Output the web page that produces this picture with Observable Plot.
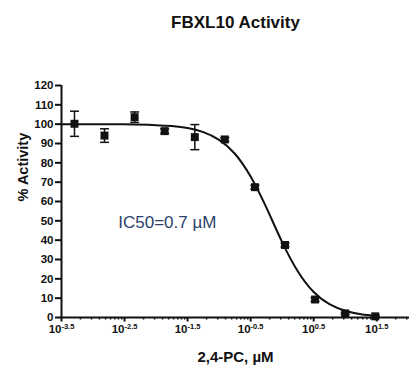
<!DOCTYPE html>
<html>
<head>
<meta charset="utf-8">
<script src="https://cdn.jsdelivr.net/npm/d3@7"></script>
<script src="https://cdn.jsdelivr.net/npm/@observablehq/plot@0.6"></script>
<style>
  html, body { margin: 0; padding: 0; background: #fff; }
  #chart svg { display: block; }
</style>
</head>
<body>
<div id="chart"></div>
<script>
// ---- data ----
const title = "FBXL10 Activity";
const xLabel = "2,4-PC, \u00b5M";
const yLabel = "% Activity";
const ic50Label = "IC50=0.7 \u00b5M";

// concentrations (µM), 3-fold dilution series
const conc = [0.000508, 0.00152, 0.00457, 0.0137, 0.0412, 0.123, 0.370, 1.11, 3.33, 10, 30];
const activity = [100.2, 94.1, 103.6, 96.4, 93.3, 92.1, 67.4, 37.5, 9.3, 2.1, 0.6];
const sem = [6.5, 3.5, 2.7, 1.2, 6.5, 1.0, 1.0, 1.0, 1.0, 0.5, 0.5];

// fitted curve (log10 µM, % activity)
const fitLogConc = [-3.5, -3, -2.5, -2, -1.75, -1.5, -1.25, -1, -0.75, -0.5, -0.25, 0, 0.25, 0.5, 0.75, 1, 1.25, 1.5];
const fitActivity = [100, 100, 99.9, 99.5, 99.0, 98.0, 95.9, 91.9, 84.7, 72.9, 56.8, 39.0, 23.8, 13.2, 6.9, 3.5, 1.7, 0.85];

// axis ticks (x in log10 µM)
const xTickExponents = [-3.5, -2.5, -1.5, -0.5, 0.5, 1.5];
const yTicks = [0, 10, 20, 30, 40, 50, 60, 70, 80, 90, 100, 110, 120];

// ---- build ----
const points = conc.map((c, i) => ({lc: Math.log10(c), v: activity[i], e: sem[i]}));
const fit = fitLogConc.map((l, i) => ({lc: l, v: fitActivity[i]}));
const xMax = 2.02;
const xMinor = [];
xTickExponents.forEach(e => { for (let k = 2; k <= 9; k++) { const t = e + Math.log10(k); if (t <= xMax) xMinor.push(t); } });

const capSymbol = {
  draw(context) { context.moveTo(-4.5, 0); context.lineTo(4.5, 0); }
};

const font = "'Liberation Sans', Arial, Helvetica, sans-serif";
const ink = "#111";

const chart = Plot.plot({
  width: 413,
  height: 371,
  marginLeft: 61,
  marginRight: 4,
  marginTop: 85,
  marginBottom: 54,
  style: {fontFamily: font, background: "#fff", color: ink},
  x: {domain: [-3.5, xMax]},
  y: {domain: [0, 120]},
  marks: [
    Plot.axisY({ticks: yTicks, tickSize: 6, tickPadding: 2, fontSize: 11.5, fontWeight: "bold", strokeWidth: 2, label: null}),
    Plot.axisX({ticks: xMinor, tickSize: 2.5, tickFormat: () => "", label: null, strokeWidth: 1.5}),
    Plot.axisX({ticks: xTickExponents, tickSize: 4.5, tickPadding: 3, fontSize: 11.5, fontWeight: "bold", strokeWidth: 2, label: null,
      tickFormat: e => "10^" + e}),
    Plot.ruleY([0], {strokeWidth: 2}),
    Plot.ruleX([-3.5], {strokeWidth: 2}),
    Plot.line(fit, {x: "lc", y: "v", curve: "natural", strokeWidth: 2, stroke: ink}),
    Plot.ruleX(points, {x: "lc", y1: d => d.v - d.e, y2: d => d.v + d.e, strokeWidth: 1.5, stroke: ink}),
    Plot.dot(points, {x: "lc", y: d => d.v + d.e, symbol: capSymbol, stroke: ink, strokeWidth: 1.5, r: 4}),
    Plot.dot(points, {x: "lc", y: d => d.v - d.e, symbol: capSymbol, stroke: ink, strokeWidth: 1.5, r: 4}),
    Plot.dot(points, {x: "lc", y: "v", symbol: "square", r: 4.5, fill: ink, stroke: "none"}),
    Plot.text([ic50Label], {x: -2.6, y: 49, textAnchor: "start", fontSize: 17, fill: "#2b3f6b"}),
    Plot.text([title], {frameAnchor: "top", dy: -63, lineAnchor: "middle", fontSize: 17, fontWeight: "bold", fill: ink}),
    Plot.text([xLabel], {frameAnchor: "bottom", dy: 40, lineAnchor: "middle", fontSize: 15, fontWeight: "bold", fill: ink}),
    Plot.text([yLabel], {frameAnchor: "left", dx: -38, rotate: -90, lineAnchor: "middle", fontSize: 14.5, fontWeight: "bold", fill: ink})
  ]
});

// superscript exponents on the x tick labels
chart.querySelectorAll('g[aria-label="x-axis tick label"] text').forEach(t => {
  const s = t.textContent;
  if (!s.includes("^")) return;
  const [base, exp] = s.split("^");
  t.textContent = base;
  const sup = document.createElementNS("http://www.w3.org/2000/svg", "tspan");
  sup.setAttribute("dy", "-4");
  sup.setAttribute("font-size", "7.5");
  sup.textContent = exp;
  t.appendChild(sup);
});

document.getElementById("chart").appendChild(chart);
</script>
</body>
</html>
